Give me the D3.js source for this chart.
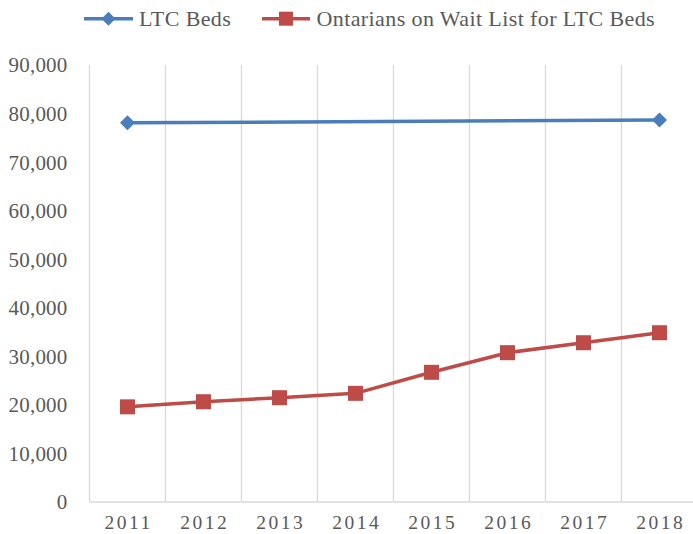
<!DOCTYPE html>
<html>
<head>
<meta charset="utf-8">
<script src="https://cdn.jsdelivr.net/npm/d3@7"></script>
<style>
  html, body { margin: 0; padding: 0; background: #fff; overflow: hidden; }
  svg { display: block; }
  text { font-family: "Liberation Serif", "Times New Roman", serif; fill: #595959; }
</style>
</head>
<body>
<svg id="chart" width="693" height="534"></svg>
<script>
const years = ["2011", "2012", "2013", "2014", "2015", "2016", "2017", "2018"];
const ltcBeds = [78100, null, null, null, null, null, null, 78650];
const waitList = [19600, 20650, 21480, 22380, 26710, 30750, 32800, 34860];
const yTicks = [0, 10000, 20000, 30000, 40000, 50000, 60000, 70000, 80000, 90000];
const seriesNames = ["LTC Beds", "Ontarians on Wait List for LTC Beds"];
const colors = ["#4A7EBB", "#BE4B48"];

const svg = d3.select("#chart");
const x = d3.scaleBand().domain(years).range([89.5, 697.5]).padding(0);
const y = d3.scaleLinear().domain([0, 90000]).range([502, 65]);
const fmt = d3.format(",");

// vertical gridlines at category boundaries
const grid = svg.append("g");
years.forEach(yr => {
  grid.append("line")
    .attr("x1", x(yr)).attr("x2", x(yr))
    .attr("y1", y(90000)).attr("y2", y(0))
    .attr("stroke", "#d9d9d9").attr("stroke-width", 1.3);
});
// baseline
grid.append("line")
  .attr("x1", x.range()[0]).attr("x2", x.range()[1])
  .attr("y1", y(0)).attr("y2", y(0))
  .attr("stroke", "#d9d9d9").attr("stroke-width", 1.3);

// y-axis labels
const yAxis = d3.axisLeft(y).tickValues(yTicks).tickFormat(d => fmt(d)).tickSize(0).tickPadding(22);
const yg = svg.append("g").attr("transform", `translate(${x.range()[0]},0)`).call(yAxis);
yg.select(".domain").remove();
yg.selectAll("text").attr("font-size", 21).attr("dy", "0.33em")
  .style("letter-spacing", "0.2px")
  .style("font-family", '"Liberation Serif", serif').attr("fill", "#666666");

// x-axis labels
const xAxis = d3.axisBottom(x).tickSize(0).tickPadding(0);
const xg = svg.append("g").attr("transform", `translate(0,${y(0)})`).call(xAxis);
xg.select(".domain").remove();
xg.selectAll("text").attr("font-size", 19.5).attr("y", 27).attr("dy", 0)
  .attr("dx", 1.2)
  .style("letter-spacing", "2.5px")
  .style("font-family", '"Liberation Serif", serif').attr("fill", "#666666");

const cx = yr => x(yr) + x.bandwidth() / 2;

// LTC Beds line (gaps connected)
const bedsPts = years.map((yr, i) => ({ yr, v: ltcBeds[i] })).filter(d => d.v != null);
svg.append("path")
  .datum(bedsPts)
  .attr("fill", "none").attr("stroke", colors[0]).attr("stroke-width", 3.5)
  .attr("stroke-linejoin", "round")
  .attr("d", d3.line().x(d => cx(d.yr)).y(d => y(d.v)));
svg.selectAll(".diamond").data(bedsPts).enter().append("path")
  .attr("fill", colors[0])
  .attr("d", d => { const px = cx(d.yr), py = y(d.v), r = 7.5;
    return `M${px},${py - r}L${px + r},${py}L${px},${py + r}L${px - r},${py}Z`; });

// Wait list line
const waitPts = years.map((yr, i) => ({ yr, v: waitList[i] }));
svg.append("path")
  .datum(waitPts)
  .attr("fill", "none").attr("stroke", colors[1]).attr("stroke-width", 3.5)
  .attr("stroke-linejoin", "round")
  .attr("d", d3.line().x(d => cx(d.yr)).y(d => y(d.v)));
svg.selectAll(".sq").data(waitPts).enter().append("rect")
  .attr("fill", colors[1])
  .attr("x", d => cx(d.yr) - 7.5).attr("y", d => y(d.v) - 7.5)
  .attr("width", 15).attr("height", 15);

// Legend
const legend = svg.append("g");
const legY = 18.7;
// item 1
legend.append("line").attr("x1", 84).attr("x2", 133).attr("y1", legY).attr("y2", legY)
  .attr("stroke", colors[0]).attr("stroke-width", 3.5);
legend.append("path").attr("fill", colors[0])
  .attr("d", `M108.5,${legY - 7}L115.5,${legY}L108.5,${legY + 7}L101.5,${legY}Z`);
legend.append("text").attr("x", 139).attr("y", legY + 7.5).attr("font-size", 22)
  .style("letter-spacing", "0.4px").attr("fill", "#666666").text(seriesNames[0]);
// item 2
legend.append("line").attr("x1", 262).attr("x2", 310).attr("y1", legY).attr("y2", legY)
  .attr("stroke", colors[1]).attr("stroke-width", 3.5);
legend.append("rect").attr("fill", colors[1]).attr("x", 279).attr("y", legY - 7)
  .attr("width", 14).attr("height", 14);
legend.append("text").attr("x", 316.5).attr("y", legY + 7.5).attr("font-size", 22)
  .style("letter-spacing", "0.4px").attr("fill", "#666666").text(seriesNames[1]);
</script>
</body>
</html>
